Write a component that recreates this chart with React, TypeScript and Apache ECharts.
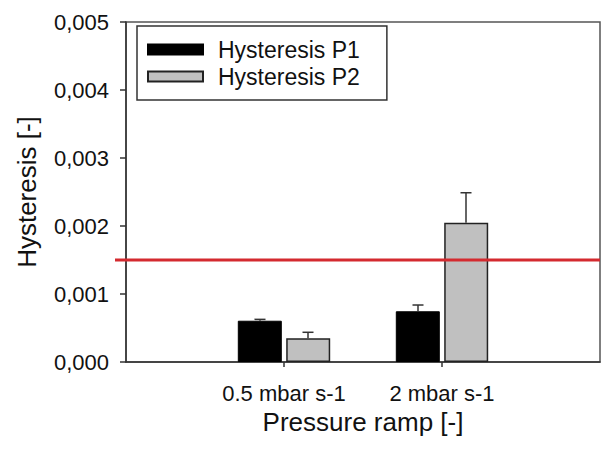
import React, { useEffect, useRef } from "react";
import * as echarts from "echarts";

const categories = ["0.5 mbar s-1", "2 mbar s-1"];
const p1Values = [0.000607, 0.000746];
const p1Errors = [0.00002, 0.000092];
const p2Values = [0.000349, 0.002049];
const p2Errors = [0.000088, 0.00044];
const threshold = 0.0015;
const yTicks = [0, 0.001, 0.002, 0.003, 0.004, 0.005];

const FONT = "'Liberation Sans', Arial, sans-serif";
const BAR_W = 44;
const OFFSET = 24;

export default function App() {
  const ref = useRef<HTMLDivElement>(null);
  useEffect(() => {
    if (!ref.current) return;
    const chart = echarts.init(ref.current, undefined, { renderer: "svg" });
    const xs = categories.map((_, i) => i + 1);
    const errSeries = (vals: number[], errs: number[], off: number) => ({
      type: "custom",
      silent: true,
      z: 5,
      clip: false,
      data: xs.map((x, i) => [x, vals[i], vals[i] + errs[i]]),
      renderItem: (params: any, api: any) => {
        const b = api.coord([api.value(0), api.value(1)]);
        const t = api.coord([api.value(0), api.value(2)]);
        const cx = b[0] + off;
        const style = { stroke: "#333", lineWidth: 1.5 };
        return {
          type: "group",
          children: [
            { type: "line", shape: { x1: cx, y1: b[1], x2: cx, y2: t[1] }, style },
            { type: "line", shape: { x1: cx - 5.5, y1: t[1], x2: cx + 5.5, y2: t[1] }, style },
          ],
        };
      },
    });
    chart.setOption({
      animation: false,
      textStyle: { fontFamily: FONT },
      grid: {
        left: 126,
        top: 22,
        right: 1,
        bottom: 88,
        show: true,
        borderColor: "#555",
        borderWidth: 1.5,
        backgroundColor: "transparent",
      },
      legend: {
        left: 137,
        top: 26,
        orient: "vertical",
        data: ["Hysteresis P1", "Hysteresis P2"],
        itemWidth: 55,
        itemHeight: 10,
        itemGap: 4,
        borderColor: "#333",
        borderWidth: 1.5,
        padding: [12, 27, 12, 10],
        icon: "rect",
        textStyle: {
          fontFamily: FONT,
          fontSize: 23,
          color: "#111",
          lineHeight: 23,
          padding: [0, 0, 0, 10],
        },
      },
      xAxis: {
        type: "value",
        min: 0,
        max: 3,
        interval: 1,
        splitLine: { show: false },
        axisLine: { show: true, onZero: false, lineStyle: { color: "#333", width: 1.5 } },
        axisTick: {
          show: true,
          length: 5,
          customValues: xs,
          lineStyle: { color: "#333", width: 1.5 },
        },
        axisLabel: {
          customValues: xs,
          fontFamily: FONT,
          fontSize: 22,
          color: "#111",
          margin: 20,
          formatter: (v: number) => categories[Math.round(v) - 1] ?? "",
        },
        name: "Pressure ramp [-]",
        nameLocation: "middle",
        nameGap: 42,
        nameTextStyle: { fontFamily: FONT, fontSize: 26, color: "#111" },
      },
      yAxis: {
        type: "value",
        min: 0,
        max: 0.005,
        interval: 0.001,
        splitLine: { show: false },
        axisLine: { show: true, lineStyle: { color: "#333", width: 1.5 } },
        axisTick: { show: true, length: 6, lineStyle: { color: "#333", width: 1.5 } },
        axisLabel: {
          fontFamily: FONT,
          fontSize: 22,
          color: "#111",
          margin: 17,
          formatter: (v: number) =>
            yTicks.some((t) => Math.abs(t - v) < 1e-9) ? v.toFixed(3).replace(".", ",") : "",
        },
        name: "Hysteresis [-]",
        nameLocation: "middle",
        nameGap: 86,
        nameTextStyle: { fontFamily: FONT, fontSize: 26, color: "#111" },
      },
      series: [
        {
          name: "Hysteresis P1",
          type: "bar",
          barWidth: BAR_W,
          barGap: "10%",
          data: xs.map((x, i) => [x, p1Values[i]]),
          itemStyle: { color: "#000", borderColor: "#000", borderWidth: 1 },
        },
        {
          name: "Hysteresis P2",
          type: "bar",
          barWidth: BAR_W,
          barGap: "10%",
          data: xs.map((x, i) => [x, p2Values[i]]),
          itemStyle: { color: "#c0c0c0", borderColor: "#222", borderWidth: 1.5 },
        },
        errSeries(p1Values, p1Errors, -OFFSET),
        errSeries(p2Values, p2Errors, OFFSET),
        {
          type: "custom",
          silent: true,
          clip: false,
          z: 10,
          data: [[0, threshold]],
          renderItem: (params: any, api: any) => {
            const a = api.coord([0, api.value(1)]);
            const b = api.coord([3, api.value(1)]);
            return {
              type: "line",
              shape: { x1: a[0] - 11, y1: a[1], x2: b[0], y2: b[1] },
              style: { stroke: "#d42a2f", lineWidth: 3 },
            };
          },
        },
      ],
    });
    return () => chart.dispose();
  }, []);
  return (
    <div
      ref={ref}
      style={{ position: "fixed", left: 0, top: 0, width: 601, height: 450, background: "#fff" }}
    />
  );
}
